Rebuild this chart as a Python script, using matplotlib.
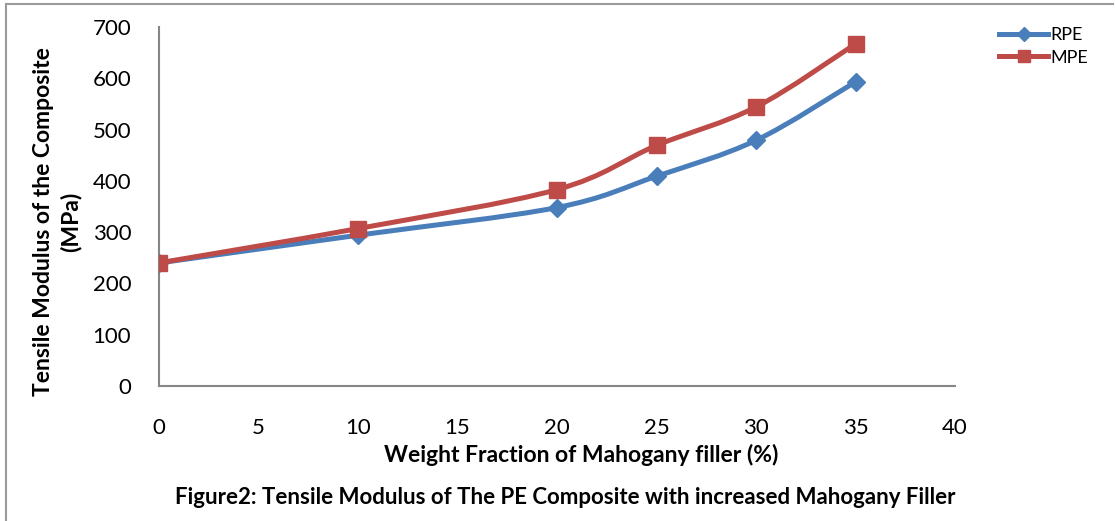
import numpy as np
import matplotlib
matplotlib.use("Agg")
import matplotlib.pyplot as plt
from matplotlib.path import Path
from matplotlib.patches import PathPatch
from matplotlib.lines import Line2D

plt.rcParams['font.family'] = ['Lato', 'DejaVu Sans']

# data
filler = [0, 10, 20, 25, 30, 35]
rpe = [240, 294, 348, 409, 479, 593]
mpe = [240, 307, 383, 469, 544, 667]
xticks = [0, 5, 10, 15, 20, 25, 30, 35, 40]
yticks = [0, 100, 200, 300, 400, 500, 600, 700]

blue = '#4A7EBB'
red = '#BE4B48'
grey = '#868686'


def smooth_path(xs, ys):
    # excel style smoothed line: cardinal spline as cubic bezier segments
    pts = np.column_stack([xs, ys]).astype(float)
    n = len(pts)
    verts = [pts[0]]
    codes = [Path.MOVETO]
    for i in range(n - 1):
        p0 = pts[max(i - 1, 0)]
        p1 = pts[i]
        p2 = pts[i + 1]
        p3 = pts[min(i + 2, n - 1)]
        c1 = p1 + (p2 - p0) / 6.0
        c2 = p2 - (p3 - p1) / 6.0
        verts += [c1, c2, p2]
        codes += [Path.CURVE4] * 3
    return Path(verts, codes)


fig = plt.figure(figsize=(11.15, 5.21), dpi=100)
ax = fig.add_axes([159 / 1115, 135 / 521, 796 / 1115, 359 / 521])

ax.add_patch(PathPatch(smooth_path(filler, rpe), fill=False, edgecolor=blue, lw=3.6,
                       capstyle='round', joinstyle='round', zorder=3))
ax.plot(filler, rpe, linestyle='none', marker='D', markersize=9, color=blue, zorder=4)
ax.add_patch(PathPatch(smooth_path(filler, mpe), fill=False, edgecolor=red, lw=3.6,
                       capstyle='round', joinstyle='round', zorder=5))
ax.plot(filler, mpe, linestyle='none', marker='s', markersize=11, color=red, zorder=6)

ax.set_xlim(0, 40)
ax.set_ylim(0, 700)
ax.set_xticks(xticks)
ax.set_yticks(yticks)
ax.tick_params(length=0, labelsize=16, colors='black')
ax.tick_params(axis='x', pad=23)
ax.tick_params(axis='y', pad=20)
for s in ['top', 'right']:
    ax.spines[s].set_visible(False)
for s in ['left', 'bottom']:
    ax.spines[s].set_color(grey)
    ax.spines[s].set_linewidth(1.5)

fig.text(57 / 1115, 1 - 222 / 521, 'Tensile Modulus of the Composite\n(MPa)',
         rotation=90, ha='center', va='center', fontsize=16.5, fontweight='bold',
         linespacing=1.3)
fig.text(581 / 1115, 1 - 455 / 521, 'Weight Fraction of Mahogany filler (%)',
         ha='center', va='center', fontsize=16.5, fontweight='bold')
fig.text(565 / 1115, 1 - 497 / 521,
         'Figure2: Tensile Modulus of The PE Composite with increased Mahogany Filler',
         ha='center', va='center', fontsize=16, fontweight='bold')

handles = [Line2D([], [], color=blue, lw=3.6, marker='D', markersize=7),
           Line2D([], [], color=red, lw=3.6, marker='s', markersize=8)]
fig.legend(handles, ['RPE', 'MPE'], loc='upper left',
           bbox_to_anchor=(983 / 1115, 1 - 11 / 521), frameon=False,
           fontsize=13, handlelength=2.7, handletextpad=0.15, labelspacing=0.35)

# outer frame (top and left only visible in the reference)
fig.add_artist(Line2D([6 / 1115, 1113 / 1115], [1 - 4 / 521, 1 - 4 / 521],
                      transform=fig.transFigure, color='#9A9A9A', lw=1.5))
fig.add_artist(Line2D([6 / 1115, 6 / 1115], [1 - 4 / 521, 0],
                      transform=fig.transFigure, color='#9A9A9A', lw=1.5))

fig.savefig('out.png', dpi=100)
